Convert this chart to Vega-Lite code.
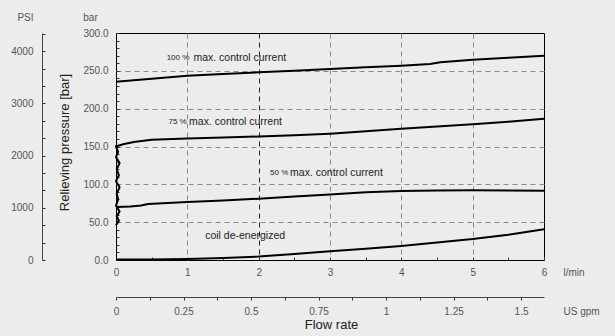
{
  "$schema": "https://vega.github.io/schema/vega-lite/v6.json",
  "width": 428,
  "height": 227,
  "autosize": {"type": "none"},
  "padding": {"left": 116, "top": 33, "right": 71, "bottom": 76},
  "background": "#ebeceb",
  "config": {
    "view": {"stroke": "#000", "strokeWidth": 1},
    "font": "Liberation Sans",
    "axis": {
      "labelFont": "Liberation Sans",
      "titleFont": "Liberation Sans",
      "labelColor": "#555",
      "titleColor": "#555",
      "labelFontSize": 10,
      "titleFontSize": 10,
      "titleFontWeight": "normal",
      "domainColor": "#444",
      "tickColor": "#333",
      "labelFlush": false,
      "labelOverlap": false
    }
  },
  "datasets": {
    "curves": [
      {"s": "100", "x": 0, "y": 235.5}, {"s": "100", "x": 0.5, "y": 239.5}, {"s": "100", "x": 1, "y": 243.5},
      {"s": "100", "x": 1.5, "y": 245.8}, {"s": "100", "x": 2, "y": 248}, {"s": "100", "x": 2.5, "y": 250.2},
      {"s": "100", "x": 3, "y": 252.4}, {"s": "100", "x": 3.5, "y": 254.6}, {"s": "100", "x": 4, "y": 256.8},
      {"s": "100", "x": 4.4, "y": 259}, {"s": "100", "x": 4.55, "y": 261.3}, {"s": "100", "x": 5, "y": 264.7},
      {"s": "100", "x": 5.5, "y": 267.3}, {"s": "100", "x": 6, "y": 270},
      {"s": "75", "x": 0.0, "y": 46}, {"s": "75", "x": 0.04, "y": 52}, {"s": "75", "x": 0.01, "y": 58},
      {"s": "75", "x": 0.05, "y": 64}, {"s": "75", "x": 0.0, "y": 72}, {"s": "75", "x": 0.03, "y": 80},
      {"s": "75", "x": 0.01, "y": 88}, {"s": "75", "x": 0.05, "y": 96}, {"s": "75", "x": 0.0, "y": 104},
      {"s": "75", "x": 0.04, "y": 112}, {"s": "75", "x": 0.01, "y": 120}, {"s": "75", "x": 0.05, "y": 128},
      {"s": "75", "x": 0.0, "y": 136}, {"s": "75", "x": 0.03, "y": 143}, {"s": "75", "x": 0.0, "y": 150},
      {"s": "75", "x": 0.1, "y": 153}, {"s": "75", "x": 0.25, "y": 156}, {"s": "75", "x": 0.5, "y": 159},
      {"s": "75", "x": 1, "y": 160.5}, {"s": "75", "x": 1.5, "y": 161.8}, {"s": "75", "x": 2, "y": 163.2},
      {"s": "75", "x": 2.5, "y": 165}, {"s": "75", "x": 3, "y": 167}, {"s": "75", "x": 3.5, "y": 170},
      {"s": "75", "x": 4, "y": 173.5}, {"s": "75", "x": 4.5, "y": 176.5}, {"s": "75", "x": 5, "y": 179.5},
      {"s": "75", "x": 5.5, "y": 182.8}, {"s": "75", "x": 6, "y": 186.8},
      {"s": "50", "x": 0, "y": 70}, {"s": "50", "x": 0.2, "y": 70.8}, {"s": "50", "x": 0.35, "y": 72},
      {"s": "50", "x": 0.45, "y": 74}, {"s": "50", "x": 1, "y": 76.5}, {"s": "50", "x": 1.5, "y": 78.7},
      {"s": "50", "x": 2, "y": 81}, {"s": "50", "x": 2.5, "y": 83.8}, {"s": "50", "x": 3, "y": 86.6},
      {"s": "50", "x": 3.5, "y": 89.5}, {"s": "50", "x": 4, "y": 91.2}, {"s": "50", "x": 4.5, "y": 92},
      {"s": "50", "x": 5, "y": 92.3}, {"s": "50", "x": 5.5, "y": 92}, {"s": "50", "x": 6, "y": 91.5},
      {"s": "0", "x": 0, "y": 0.5}, {"s": "0", "x": 0.5, "y": 0.8}, {"s": "0", "x": 1, "y": 1.3},
      {"s": "0", "x": 1.5, "y": 2.5}, {"s": "0", "x": 2, "y": 4.5}, {"s": "0", "x": 2.5, "y": 8},
      {"s": "0", "x": 3, "y": 11.5}, {"s": "0", "x": 3.5, "y": 15}, {"s": "0", "x": 4, "y": 18.5},
      {"s": "0", "x": 4.5, "y": 23}, {"s": "0", "x": 5, "y": 27.7}, {"s": "0", "x": 5.5, "y": 33.5},
      {"s": "0", "x": 6, "y": 40.5}
    ],
    "labels": [
      {"t": "100 %", "k": "s", "x": 0.71, "y": 267.5},
      {"t": "max. control current", "k": "m", "x": 1.085, "y": 267.5},
      {"t": "75 %", "k": "s", "x": 0.735, "y": 182.5},
      {"t": "max. control current", "k": "m", "x": 1.025, "y": 182.5},
      {"t": "50 %", "k": "s", "x": 2.16, "y": 115.5},
      {"t": "max. control current", "k": "m", "x": 2.44, "y": 115.5},
      {"t": "coil de-energized", "k": "m", "x": 1.25, "y": 32}
    ],
    "psi": [{"psi": 0}, {"psi": 4351.1}],
    "gpm": [{"gpm": 0}, {"gpm": 1.585}]
  },
  "layer": [
    {
      "encoding": {
        "x": {
          "field": "x", "type": "quantitative",
          "scale": {"domain": [0, 6], "nice": false, "zero": false},
          "axis": {
            "values": [0, 0.5, 1, 1.5, 2, 2.5, 3, 3.5, 4, 4.5, 5, 5.5, 6],
            "labelExpr": "datum.value % 1 === 0 ? format(datum.value, 'd') : ''",
            "tickSize": -3,
            "labelPadding": 10,
            "domain": false,
            "grid": true,
            "gridDash": [5, 4],
            "gridColor": {"condition": {"test": "datum.value === 2", "value": "#222"}, "value": "#8a8a8a"},
            "gridOpacity": {"condition": {"test": "datum.value % 1 === 0 && datum.value > 0 && datum.value < 6", "value": 1}, "value": 0},
            "title": "l/min",
            "titleX": 447, "titleY": 12, "titleAlign": "left", "titleBaseline": "middle"
          }
        },
        "y": {
          "field": "y", "type": "quantitative",
          "scale": {"domain": [0, 300], "nice": false},
          "axis": {
            "values": [0, 10, 20, 30, 40, 50, 60, 70, 80, 90, 100, 110, 120, 130, 140, 150, 160, 170, 180, 190, 200, 210, 220, 230, 240, 250, 260, 270, 280, 290, 300],
            "labelExpr": "datum.value % 50 === 0 ? format(datum.value, '.1f') : ''",
            "tickSize": -3,
            "labelPadding": 11,
            "domain": false,
            "grid": true,
            "gridDash": [5, 4],
            "gridColor": "#8a8a8a",
            "gridOpacity": {"condition": {"test": "datum.value % 50 === 0 && datum.value > 0 && datum.value < 300", "value": 1}, "value": 0},
            "title": "bar",
            "titleAngle": 0, "titleX": -26, "titleY": -16, "titleAlign": "center", "titleBaseline": "middle"
          }
        }
      },
      "layer": [
        {
          "data": {"name": "curves"},
          "mark": {"type": "line", "color": "#000", "strokeWidth": 2},
          "encoding": {"detail": {"field": "s"}, "order": {"value": null}}
        },
        {
          "data": {"name": "labels"},
          "transform": [{"filter": "datum.k === 's'"}],
          "mark": {"type": "text", "align": "left", "baseline": "middle", "fontSize": 8, "color": "#222", "font": "Liberation Sans"},
          "encoding": {"text": {"field": "t"}}
        },
        {
          "data": {"name": "labels"},
          "transform": [{"filter": "datum.k === 'm'"}],
          "mark": {"type": "text", "align": "left", "baseline": "middle", "fontSize": 10.5, "color": "#222", "font": "Liberation Sans"},
          "encoding": {"text": {"field": "t"}}
        }
      ]
    },
    {
      "data": {"name": "psi"},
      "mark": {"type": "rule", "opacity": 0},
      "encoding": {
        "y": {
          "field": "psi", "type": "quantitative",
          "scale": {"domain": [0, 4351.1], "nice": false},
          "axis": {
            "orient": "left",
            "offset": 74,
            "values": [0, 333.33, 666.67, 1000, 1333.33, 1666.67, 2000, 2333.33, 2666.67, 3000, 3333.33, 3666.67, 4000, 4333.33],
            "labelExpr": "abs(datum.value - round(datum.value / 1000) * 1000) < 1 ? format(datum.value, 'd') : ''",
            "tickSize": -3,
            "labelPadding": 12,
            "grid": false,
            "title": "PSI",
            "titleAngle": 0, "titleX": -17, "titleY": -16, "titleAlign": "center", "titleBaseline": "middle"
          }
        }
      }
    },
    {
      "data": {"name": "gpm"},
      "mark": {"type": "rule", "opacity": 0},
      "encoding": {
        "x": {
          "field": "gpm", "type": "quantitative",
          "scale": {"domain": [0, 1.58503], "nice": false, "zero": false},
          "axis": {
            "orient": "bottom",
            "offset": 37,
            "values": [0, 0.125, 0.25, 0.375, 0.5, 0.625, 0.75, 0.875, 1, 1.125, 1.25, 1.375, 1.5],
            "labelExpr": "datum.value % 0.25 === 0 ? datum.value + '' : ''",
            "tickSize": 3,
            "labelPadding": 6,
            "grid": false,
            "title": "US gpm",
            "titleX": 447, "titleY": 14, "titleAlign": "left", "titleBaseline": "middle"
          }
        }
      }
    },
    {
      "data": {"name": "curves"},
      "mark": {"type": "point", "opacity": 0},
      "encoding": {
        "x": {
          "field": "x", "type": "quantitative",
          "scale": {"domain": [0, 6], "nice": false, "zero": false},
          "axis": {
            "orient": "bottom", "labels": false, "ticks": false, "domain": false, "grid": false,
            "title": "Flow rate",
            "titleX": 215, "titleY": 64, "titleAlign": "center", "titleBaseline": "middle",
            "titleFontSize": 13, "titleColor": "#222"
          }
        },
        "y": {
          "field": "y", "type": "quantitative",
          "scale": {"domain": [0, 300], "nice": false},
          "axis": {
            "orient": "left", "labels": false, "ticks": false, "domain": false, "grid": false,
            "title": "Relieving pressure [bar]",
            "titleX": -52, "titleY": 109, "titleAngle": -90, "titleAlign": "center", "titleBaseline": "middle",
            "titleFontSize": 13, "titleColor": "#222"
          }
        }
      }
    }
  ],
  "resolve": {"scale": {"x": "independent", "y": "independent"}}
}
